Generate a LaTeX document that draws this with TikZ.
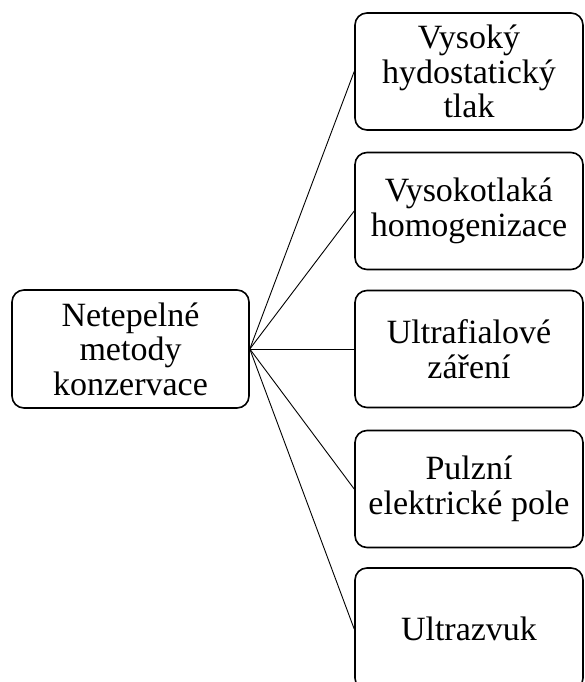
\documentclass[tikz,border=0pt]{standalone}
\usepackage{fontspec}
\setmainfont{Liberation Serif}
\begin{document}
\begin{tikzpicture}[x=1pt,y=-1pt,
  box/.style={draw=black, line width=1.6pt, rounded corners=12pt, align=center,
    inner sep=0pt, font=\fontsize{34}{34.5}\selectfont},
  rbox/.style={box, minimum width=228pt, minimum height=117pt},
  link/.style={draw=black, line width=0.9pt}]
\useasboundingbox (0,0) rectangle (584,682);
\node[box, minimum width=237pt, minimum height=118pt] (root) at (130.5,349) {Netepelné\\metody\\konzervace};
\node[rbox] (a) at (469,71.5) {Vysoký\\hydostatický\\tlak};
\node[rbox] (b) at (469,211) {Vysokotlaká\\homogenizace};
\node[rbox] (c) at (469,349) {Ultrafialové\\záření};
\node[rbox] (d) at (469,489) {Pulzní\\elektrické pole};
\node[rbox, minimum height=122pt] (e) at (469,629) {Ultrazvuk};
\foreach \n in {a,b,c,d,e}
  \draw[link] (root.east) -- (\n.west);
\end{tikzpicture}
\end{document}
